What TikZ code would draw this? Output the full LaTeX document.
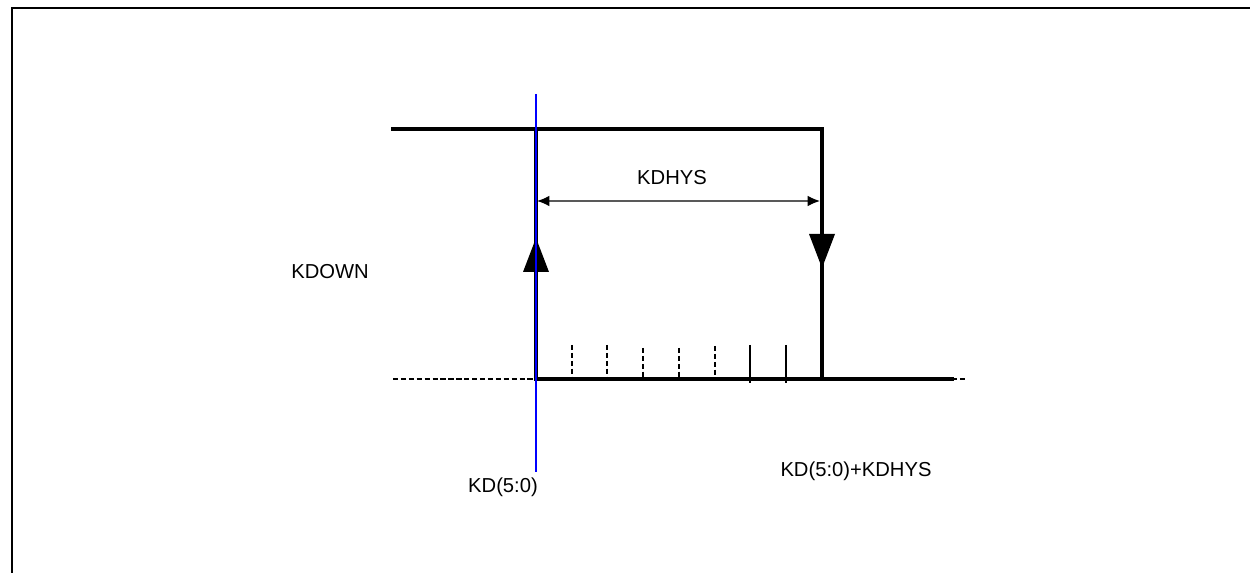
\documentclass[tikz,border=0pt]{standalone}
\usepackage{fontspec}
\setmainfont{Liberation Sans}
\usetikzlibrary{arrows.meta}
\begin{document}
\begin{tikzpicture}[x=0.02cm,y=-0.02cm,
  sig/.style={line width=2.1pt,line cap=rect},
  lbl/.style={font=\fontsize{11.5}{13}\selectfont,inner sep=0pt},
  tickd/.style={line width=0.7pt,dash pattern=on 3pt off 1.5pt},
  ticks/.style={line width=0.8pt},
  tri/.style={fill=black,draw=none}]
\useasboundingbox (0,0) rectangle (1250,573);
% frame (extends beyond the page)
\draw[line width=1.5pt] (12,600) -- (12,8) -- (1280,8);
% coordinates
\coordinate (hl) at (393,129);
\coordinate (rise) at (536,129);
\coordinate (fall) at (822,129);
\coordinate (risebot) at (536,379);
\coordinate (fallbot) at (822,379);
\coordinate (lowend) at (952,379);
\coordinate (lowdash) at (965,379);
\coordinate (lowleft) at (393,379);
\coordinate (btop) at (536,94);
\coordinate (bbot) at (536,472);
% dashed low level
\draw[line width=0.8pt,dash pattern=on 3pt off 1.5pt] (lowleft) -- (risebot);
\draw[line width=0.8pt,dash pattern=on 3pt off 1.5pt] (lowend) -- (lowdash);
% ticks
\foreach \x/\t in {572/345,607/345,643/348,679/348,715/346}{
  \draw[tickd] (\x,\t) -- (\x,381);
}
\foreach \x in {750,786}{
  \draw[ticks] (\x,345) -- (\x,383);
}
% signal
\draw[sig] (hl) -- (fall) -- (fallbot) -- (lowend);
\draw[sig] (rise) -- (risebot) -- (fallbot);
% arrow triangles
\fill[tri] (536,238) -- (549,272) -- (523,272) -- cycle;
\fill[tri] (809,234) -- (835,234) -- (822,268) -- cycle;
% blue line
\draw[blue,line width=0.7pt] (btop) -- (bbot);
% KDHYS dimension
\coordinate (dl) at (537,201);
\coordinate (dr) at (820,201);
\draw[gray!70!black,line width=0.7pt,{Latex[length=7pt,width=6pt,black]}-{Latex[length=7pt,width=6pt,black]}] (dl) -- (dr);
% labels
\node[lbl] (kdhys) at (672,178) {KDHYS};
\node[lbl] (kdown) at (330,272) {KDOWN};
\node[lbl] (kd) at (503,487) {KD(5:0)};
\node[lbl] (kdplus) at (856,471) {KD(5:0)+KDHYS};
\end{tikzpicture}
\end{document}
